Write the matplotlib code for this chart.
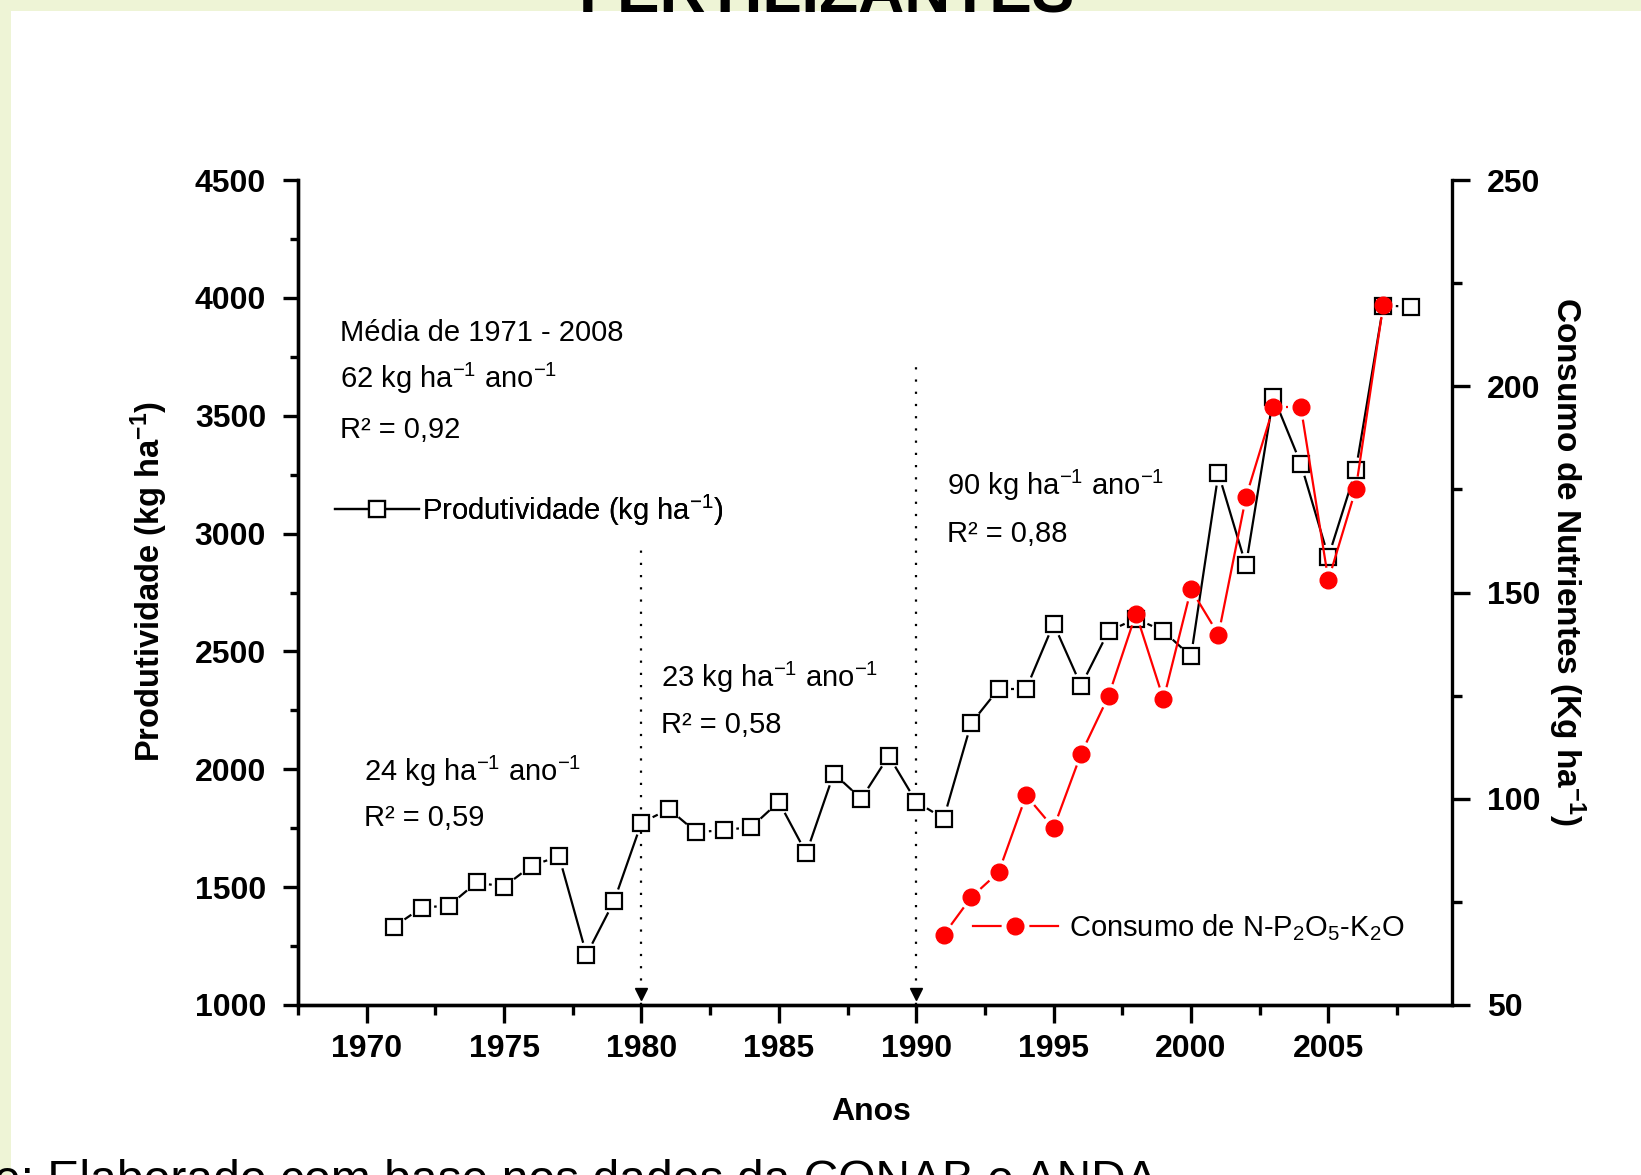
import numpy as np
import matplotlib
matplotlib.use("Agg")
import matplotlib.pyplot as plt
from matplotlib.lines import Line2D
from matplotlib.patches import Rectangle
from matplotlib.collections import LineCollection
from matplotlib.legend_handler import HandlerTuple
from matplotlib.ticker import MultipleLocator

plt.rcParams["font.family"] = ["Liberation Sans", "DejaVu Sans"]
plt.rcParams["mathtext.fontset"] = "custom"
plt.rcParams["mathtext.rm"] = "Liberation Sans"
plt.rcParams["mathtext.it"] = "Liberation Sans:italic"
plt.rcParams["mathtext.bf"] = "Liberation Sans:bold"

# ---- data -------------------------------------------------------------
years_prod = list(range(1971, 2009))
produtividade = [1333, 1413, 1422, 1520, 1502, 1591, 1631, 1213, 1440, 1773,
                 1831, 1733, 1742, 1755, 1862, 1644, 1982, 1875, 2057, 1862,
                 1791, 2195, 2341, 2341, 2617, 2355, 2586, 2639, 2586, 2479,
                 3256, 2865, 3581, 3296, 2901, 3270, 3967, 3963]

years_npk = list(range(1991, 2008))
consumo_npk = [67.0, 76.1, 82.2, 100.8, 92.9, 110.9, 124.9, 144.9, 124.1,
               150.8, 139.8, 173.1, 194.9, 194.9, 153.0, 175.1, 219.8]

period_years = [1980, 1990]
period_tops = [2950, 3720]

x_ticks = [1970, 1975, 1980, 1985, 1990, 1995, 2000, 2005]
left_ticks = [1000, 1500, 2000, 2500, 3000, 3500, 4000, 4500]
right_ticks = [50, 100, 150, 200, 250]

W, H = 1641, 1175
fig = plt.figure(figsize=(W / 100, H / 100), dpi=100)
fig.patch.set_facecolor("#eef4d6")
fig.add_artist(Rectangle((11 / W, 0), 1, 1 - 11 / H, transform=fig.transFigure,
                         facecolor="white", edgecolor="none", zorder=0))

ax = fig.add_axes([298 / W, 1 - 1005 / H, 1154 / W, 825 / H])
ax.set_facecolor("none")
ax2 = ax.twinx()
ax2.set_facecolor("none")

ax.set_xlim(1967.5, 2009.5)
ax.set_ylim(1000, 4500)
ax2.set_ylim(50, 250)

SPW = 2.4
for a in (ax, ax2):
    for s in a.spines.values():
        s.set_linewidth(SPW)
    a.spines["top"].set_visible(False)
ax.spines["right"].set_visible(False)

ax.set_xticks(x_ticks)
ax.set_xticks(np.arange(1967.5, 2010, 5), minor=True)
ax.set_yticks(left_ticks)
ax.yaxis.set_minor_locator(MultipleLocator(250))
ax2.set_yticks(right_ticks)
ax2.yaxis.set_minor_locator(MultipleLocator(25))

ax.tick_params(axis="both", which="major", direction="out", length=11, width=SPW, pad=12)
ax.tick_params(axis="both", which="minor", direction="out", length=6, width=SPW)
ax.tick_params(axis="x", which="major", length=13, pad=8)
ax.tick_params(axis="x", which="minor", length=7)
ax2.tick_params(axis="y", which="major", direction="out", length=13, width=SPW, pad=12)
ax2.tick_params(axis="y", which="minor", direction="out", length=7, width=SPW)
for lab in ax.get_xticklabels() + ax.get_yticklabels() + ax2.get_yticklabels():
    lab.set_fontsize(23)
    lab.set_fontweight("bold")


def gapped(a, xs, ys, gap_px):
    pts = a.transData.transform(np.column_stack([xs, ys]))
    inv = a.transData.inverted()
    segs = []
    for p0, p1 in zip(pts[:-1], pts[1:]):
        d = p1 - p0
        L = np.hypot(*d)
        if L <= 2 * gap_px:
            continue
        u = d / L
        segs.append(inv.transform([p0 + u * gap_px, p1 - u * gap_px]))
    return segs


# productivity series (left axis)
ax.add_collection(LineCollection(gapped(ax, years_prod, produtividade, 12.5),
                                 colors="black", linewidths=1.6, zorder=3))
ax.plot(years_prod, produtividade, linestyle="none", marker="s", ms=12,
        mfc="white", mec="black", mew=1.6, zorder=4)

# nutrient consumption series (right axis)
ax2.add_collection(LineCollection(gapped(ax2, years_npk, consumo_npk, 12.5),
                                  colors="#ff0000", linewidths=1.6, zorder=3))
ax2.plot(years_npk, consumo_npk, linestyle="none", marker="o", ms=12,
         mfc="#ff0000", mec="#ff0000", zorder=4)

# period separators
for yr, top in zip(period_years, period_tops):
    ax.plot([yr, yr], [1000, top], color="black", lw=1.6,
            linestyle=(0, (1, 4.5)), zorder=2)
    ax.plot([yr], [1047], marker="v", color="black", ms=8, zorder=2)

# annotations
txt = dict(fontsize=21, transform=ax.transAxes, va="baseline", ha="left")
ax.text(0.0363, 0.8045, "Média de 1971 - 2008", **txt)
ax.text(0.0363, 0.7474, r"62 kg ha$^{-1}$ ano$^{-1}$", **txt)
ax.text(0.0363, 0.6878, "R² = 0,92", **txt)
ax.text(0.0571, 0.2715, r"24 kg ha$^{-1}$ ano$^{-1}$", **txt)
ax.text(0.0571, 0.2170, "R² = 0,59", **txt)
ax.text(0.3146, 0.3857, r"23 kg ha$^{-1}$ ano$^{-1}$", **txt)
ax.text(0.3146, 0.3299, "R² = 0,58", **txt)
ax.text(0.5621, 0.6180, r"90 kg ha$^{-1}$ ano$^{-1}$", **txt)
ax.text(0.5621, 0.5609, "R² = 0,88", **txt)

# legends
h_prod = Line2D([], [], color="black", lw=1.6, marker="s", ms=12,
                mfc="white", mec="black", mew=1.6)
leg1 = ax.legend([h_prod], [r"Produtividade (kg ha$^{-1}$)"], loc="center left",
                 bbox_to_anchor=(0.0317, 0.600), frameon=False, fontsize=21,
                 handlelength=2.9, handletextpad=0.1, borderpad=0, borderaxespad=0)
ax.add_artist(leg1)

h_line = Line2D([], [], color="#ff0000", lw=1.6)
h_gap = Line2D([], [], linestyle="none", marker="o", ms=19, mfc="white", mec="white")
h_dot = Line2D([], [], linestyle="none", marker="o", ms=12, mfc="#ff0000", mec="#ff0000")
leg2 = ax2.legend([(h_line, h_gap, h_dot)], [r"Consumo de N-P$_2$O$_5$-K$_2$O"],
                  handler_map={tuple: HandlerTuple(ndivide=1, pad=0)},
                  loc="center left", bbox_to_anchor=(0.585, 0.094), frameon=False,
                  fontsize=21, handlelength=2.9, handletextpad=0.4,
                  borderpad=0, borderaxespad=0)

# axis labels
ax.set_xlabel("Anos", fontsize=23, fontweight="bold")
ax.xaxis.set_label_coords(0.497, -0.1115)
ax.set_ylabel(r"Produtividade (kg ha$^{\mathbf{-1}}$)", fontsize=23.5, fontweight="bold")
ax.yaxis.set_label_coords(-0.111, 0.514)
ax2.text(1.0997, 0.538, r"Consumo de Nutrientes (Kg ha$^{\mathbf{-1}}$)",
         transform=ax.transAxes, rotation=-90, ha="center", va="center",
         fontsize=24, fontweight="bold")

# slide title and source line
fig.text(0.504, 1 - 12.5 / H, "FERTILIZANTES", ha="center", va="baseline",
         fontsize=46, fontweight="bold")
fig.text(-6 / W, 1 - 1194 / H, "e: Elaborado com base nos dados da CONAB e ANDA",
         ha="left", va="baseline", fontsize=34.6)

fig.savefig("out.png", dpi=100, facecolor=fig.get_facecolor())
